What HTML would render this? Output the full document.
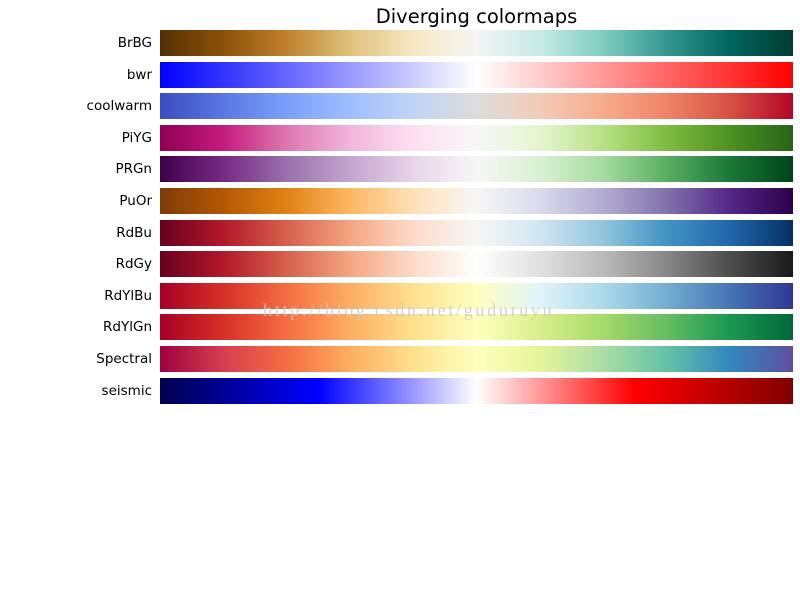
<!DOCTYPE html>
<html><head><meta charset="utf-8">
<style>
body{margin:0;background:#fff;}
#wrap{position:relative;width:800px;height:600px;overflow:hidden;font-family:"DejaVu Sans","Liberation Sans",sans-serif;}
.title{position:absolute;left:160px;width:633px;top:5px;text-align:center;font-size:19.5px;color:#000;}
.lbl{position:absolute;right:648px;font-size:13.5px;color:#000;line-height:26px;white-space:nowrap;}
.bar{position:absolute;left:160px;width:633px;height:26px;}
.wm{position:absolute;left:263px;top:300px;z-index:5;font-family:"Liberation Serif",serif;font-size:18px;color:rgba(200,200,200,0.8);letter-spacing:2.7px;white-space:nowrap;}
</style></head>
<body>
<div id="wrap">
<div class="title">Diverging colormaps</div>
<div class="wm">http://blog.csdn.net/guduruyu</div>
</div>
<script>
const cmapNames=["BrBG","bwr","coolwarm","PiYG","PRGn","PuOr","RdBu","RdGy","RdYlBu","RdYlGn","Spectral","seismic"];
const cmapStops=[
["#543005","#8c510a","#bf812d","#dfc27d","#f6e8c3","#f5f5f5","#c7eae5","#80cdc1","#35978f","#01665e","#003c30"],
["#0000ff","#ffffff","#ff0000"],
["#3b4cc0","#5977e3","#7b9ff9","#9ebeff","#c0d4f5","#dddcdc","#f2cbb7","#f7ac8e","#ee8468","#d65244","#b40426"],
["#8e0152","#c51b7d","#de77ae","#f1b6da","#fde0ef","#f7f7f7","#e6f5d0","#b8e186","#7fbc41","#4d9221","#276419"],
["#40004b","#762a83","#9970ab","#c2a5cf","#e7d4e8","#f7f7f7","#d9f0d3","#a6dba0","#5aae61","#1b7837","#00441b"],
["#7f3b08","#b35806","#e08214","#fdb863","#fee0b6","#f7f7f7","#d8daeb","#b2abd2","#8073ac","#542788","#2d004b"],
["#67001f","#b2182b","#d6604d","#f4a582","#fddbc7","#f7f7f7","#d1e5f0","#92c5de","#4393c3","#2166ac","#053061"],
["#67001f","#b2182b","#d6604d","#f4a582","#fddbc7","#ffffff","#e0e0e0","#bababa","#878787","#4d4d4d","#1a1a1a"],
["#a50026","#d73027","#f46d43","#fdae61","#fee090","#ffffbf","#e0f3f8","#abd9e9","#74add1","#4575b4","#313695"],
["#a50026","#d73027","#f46d43","#fdae61","#fee08b","#ffffbf","#d9ef8b","#a6d96a","#66bd63","#1a9850","#006837"],
["#9e0142","#d53e4f","#f46d43","#fdae61","#fee08b","#ffffbf","#e6f598","#abdda4","#66c2a5","#3288bd","#5e4fa2"],
["#00004d","#0000ff","#ffffff","#ff0000","#800000"]
];
const wrap=document.getElementById('wrap');
const top0=30, step=31.6;
function rowY(i){return Math.round(top0+i*step);}
cmapNames.forEach((n,i)=>{
  const y=rowY(i);
  const l=document.createElement('div');
  l.className='lbl';l.style.top=y+'px';l.textContent=n;
  
  
  wrap.appendChild(l);
  const b=document.createElement('div');
  b.className='bar';b.style.top=y+'px';
  const s=cmapStops[i];
  b.style.background='linear-gradient(to right,'+s.map((c,k)=>c+' '+(k/(s.length-1)*100)+'%').join(',')+')';
  
  
  wrap.appendChild(b);
});
</script>
</body></html>
